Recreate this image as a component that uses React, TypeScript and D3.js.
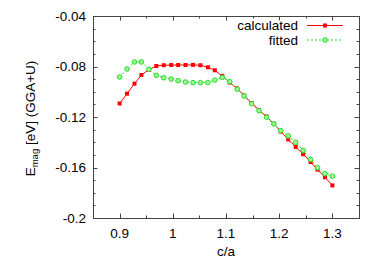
import React from 'react';
import * as d3 from 'd3';

const ratios = [0.9, 0.914, 0.928, 0.941, 0.955, 0.969, 0.983, 0.997, 1.010, 1.024,
  1.038, 1.052, 1.066, 1.079, 1.093, 1.107, 1.121, 1.134, 1.148, 1.162,
  1.176, 1.190, 1.203, 1.217, 1.231, 1.245, 1.259, 1.272, 1.286, 1.3];

const calculated = [-0.1093, -0.1015, -0.0936, -0.0867, -0.0825, -0.0796, -0.079, -0.0788, -0.0788, -0.0788,
  -0.0787, -0.079, -0.0806, -0.083, -0.0875, -0.0927, -0.0974, -0.103, -0.1089, -0.1144,
  -0.1196, -0.1254, -0.1315, -0.1378, -0.1437, -0.1495, -0.1556, -0.1617, -0.1677, -0.1742];

const fitted = [-0.0883, -0.082, -0.0764, -0.0764, -0.0822, -0.087, -0.0889, -0.0899, -0.0912, -0.0923,
  -0.0928, -0.0928, -0.0927, -0.0908, -0.0886, -0.092, -0.098, -0.1034, -0.1095, -0.115,
  -0.1202, -0.1255, -0.1308, -0.135, -0.140, -0.1465, -0.1537, -0.1602, -0.1649, -0.1669];

const xTicks = [0.9, 1, 1.1, 1.2, 1.3];
const xMinor = [0.85, 0.95, 1.05, 1.15, 1.25, 1.35];
const yTicks = [-0.04, -0.08, -0.12, -0.16, -0.2];
const yMinor = d3.range(-0.2, -0.039, 0.01);

const W = 374, H = 262;
const m = { left: 93, right: 359, top: 16, bottom: 218 };
const font = "'Liberation Sans', Arial, Helvetica, sans-serif";
const axisColor = '#444';
const red = '#ff0000';
const green = '#22e022';

export default function App() {
  const x = d3.scaleLinear().domain([0.85, 1.35]).range([m.left, m.right]);
  const y = d3.scaleLinear().domain([-0.2, -0.04]).range([m.bottom, m.top]);

  const lineCalc = d3.line<number>().x((_, i) => x(ratios[i])).y(d => y(d));
  const calcPath = lineCalc(calculated) || '';
  const fitPath = lineCalc(fitted) || '';

  const major = 4.5, minor = 2.5;

  return (
    <svg width={W} height={H} style={{ position: 'absolute', left: 0, top: 0, background: '#fff' }}
      fontFamily={font}>
      {/* ticks */}
      {yMinor.map((v, i) => {
        const isMajor = Math.abs(((v + 0.2) / 0.04) - Math.round((v + 0.2) / 0.04)) < 1e-6;
        const len = isMajor ? major : minor;
        return (
          <g key={'ym' + i} stroke={axisColor} strokeWidth={1}>
            <line x1={m.left} x2={m.left + len} y1={Math.round(y(v)) + 0.5} y2={Math.round(y(v)) + 0.5} />
            <line x1={m.right} x2={m.right - len} y1={Math.round(y(v)) + 0.5} y2={Math.round(y(v)) + 0.5} />
          </g>
        );
      })}
      {xTicks.concat(xMinor).map((v, i) => {
        const len = i < xTicks.length ? major : minor;
        const px = Math.round(x(v)) + 0.5;
        return (
          <g key={'xm' + i} stroke={axisColor} strokeWidth={1}>
            <line x1={px} x2={px} y1={m.bottom} y2={m.bottom - len} />
            <line x1={px} x2={px} y1={m.top} y2={m.top + len} />
          </g>
        );
      })}
      <rect x={m.left + 0.5} y={m.top + 0.5} width={m.right - m.left} height={m.bottom - m.top}
        fill="none" stroke={axisColor} strokeWidth={1} />

      {/* tick labels */}
      {yTicks.map(v => (
        <text key={'yt' + v} x={86} y={y(v)} dy="0.36em" textAnchor="end" fontSize={13.5} fill="#000">
          {String(v)}
        </text>
      ))}
      {xTicks.map(v => (
        <text key={'xt' + v} x={x(v)} y={238} textAnchor="middle" fontSize={13.5} fill="#000">
          {String(v)}
        </text>
      ))}
      <text x={x(1.1)} y={256} textAnchor="middle" fontSize={13.5} fill="#000">c/a</text>
      <text transform="translate(35,118.5) rotate(-90)" textAnchor="middle" fontSize={13.5} fill="#000">
        E<tspan fontSize={9.5} dy={3}>mag</tspan><tspan dy={-3}> [eV] (GGA+U)</tspan>
      </text>

      {/* series */}
      <path d={calcPath} fill="none" stroke={red} strokeWidth={1} />
      <path d={fitPath} fill="none" stroke={green} strokeWidth={1} strokeDasharray="2,2" />
      {calculated.map((v, i) => (
        <rect key={'c' + i} x={x(ratios[i]) - 2} y={y(v) - 2} width={4} height={4} fill={red} />
      ))}
      {fitted.map((v, i) => (
        <circle key={'f' + i} cx={x(ratios[i])} cy={y(v)} r={2.3} fill="#9ef59e" stroke={green} strokeWidth={1} />
      ))}

      {/* legend */}
      <text x={298} y={25.5} dy="0.36em" textAnchor="end" fontSize={13.5} fill="#000">calculated</text>
      <line x1={307} x2={343} y1={25.5} y2={25.5} stroke={red} strokeWidth={1} />
      <rect x={323} y={23.5} width={4} height={4} fill={red} />
      <text x={298} y={40} dy="0.36em" textAnchor="end" fontSize={13.5} fill="#000">fitted</text>
      <line x1={307} x2={343} y1={40} y2={40} stroke={green} strokeWidth={1} strokeDasharray="2,2" />
      <circle cx={325} cy={40} r={2.3} fill="#9ef59e" stroke={green} strokeWidth={1} />
    </svg>
  );
}
